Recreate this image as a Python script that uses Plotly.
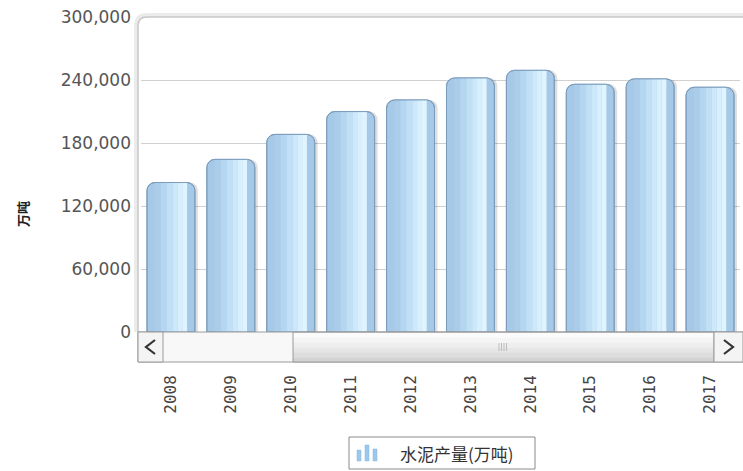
import plotly.graph_objects as go

# ---- data ----
years = ["2008", "2009", "2010", "2011", "2012", "2013", "2014", "2015", "2016", "2017"]
cement_output = [142356, 164398, 188191, 209926, 220984, 241924, 249207, 235919, 241031, 233084]
y_ticks = [0, 60000, 120000, 180000, 240000, 300000]
series_name = "水泥产量(万吨)"
y_title = "万吨"

W, H = 743, 471
L, R, T, B = 141, 3, 17, 139
PW = W - L - R
PH = H - T - B


def px(xp):
    return (xp - L) / PW


def py(yp):
    return (H - B - yp) / PH


fig = go.Figure()

BW = 0.8
CR = 8

# shadow
fig.add_trace(go.Bar(x=years, y=cement_output, width=BW, offset=-BW / 2 + 0.05,
                     marker=dict(color="rgba(0,0,0,0.13)", line=dict(width=0), cornerradius=CR),
                     showlegend=False, hoverinfo="skip"))
# base
fig.add_trace(go.Bar(x=years, y=cement_output, width=BW, offset=-BW / 2, name=series_name,
                     marker=dict(color="#a6c9e7", line=dict(color="#7b9dbd", width=1), cornerradius=CR),
                     showlegend=False))
# gradient strips
strips = [(-0.27, -0.17, "#abcdea"), (-0.17, -0.07, "#b5d6f0"), (-0.07, 0.03, "#c1dff5"),
          (0.03, 0.11, "#cde8fa"), (0.11, 0.19, "#d8effe"), (0.19, 0.27, "#e0f4ff")]
for a, b, c in strips:
    fig.add_trace(go.Bar(x=years, y=cement_output, width=b - a, offset=a,
                         marker=dict(color=c, line=dict(width=0)),
                         showlegend=False, hoverinfo="skip"))
# outline on top
fig.add_trace(go.Bar(x=years, y=cement_output, width=BW, offset=-BW / 2,
                     marker=dict(color="rgba(0,0,0,0)", line=dict(color="#7b9dbd", width=1), cornerradius=CR),
                     showlegend=False, hoverinfo="skip"))

shapes = []
frame = (f"M {px(138)} {py(332)} L {px(138)} {py(26)} Q {px(138)} {py(17)} {px(147)} {py(17)} "
         f"L {px(743)} {py(17)}")
frame_sh = (f"M {px(136)} {py(332)} L {px(136)} {py(26)} Q {px(136)} {py(15)} {px(147)} {py(15)} "
            f"L {px(743)} {py(15)}")
shapes.append(dict(type="path", xref="paper", yref="paper", path=frame_sh,
                   line=dict(color="rgba(0,0,0,0.08)", width=4), layer="below"))
shapes.append(dict(type="path", xref="paper", yref="paper", path=frame,
                   line=dict(color="#c8c8c8", width=1.5), layer="above"))


def rect(x0, y0, x1, y1, fill, line="#9a9a9a", lw=1):
    shapes.append(dict(type="rect", xref="paper", yref="paper", x0=px(x0), x1=px(x1),
                       y0=py(y1), y1=py(y0), fillcolor=fill, line=dict(color=line, width=lw),
                       layer="above"))


def path(d, color, width):
    shapes.append(dict(type="path", xref="paper", yref="paper", path=d,
                       line=dict(color=color, width=width), layer="above"))


# scrollbar
rect(138, 332, 743, 362, "#f8f8f8")
grad = ["#fbfbfb", "#f5f5f5", "#eeeeee", "#e6e6e6", "#dddddd", "#d3d3d3"]
for i, c in enumerate(grad):
    y0 = 333 + i * 29 / len(grad)
    y1 = 333 + (i + 1) * 29 / len(grad)
    rect(293, y0, 714, y1, c, line="rgba(0,0,0,0)", lw=0)
rect(293, 332, 714, 362, "rgba(0,0,0,0)")
rect(138, 332, 163, 362, "#f4f4f4")
rect(714, 332, 743, 362, "#f4f4f4")
path(f"M {px(155)} {py(340)} L {px(146)} {py(347)} L {px(155)} {py(354)}", "#333333", 2.2)
path(f"M {px(724)} {py(340)} L {px(733)} {py(347)} L {px(724)} {py(354)}", "#333333", 2.2)
for gx in [499, 501.5, 504, 506.5]:
    path(f"M {px(gx)} {py(343)} L {px(gx)} {py(351)}", "#b0b0b0", 0.8)

# legend box (manual, mimicking the mini-bar icon)
rect(349, 437, 535, 469, "white", line="#8a8a8a", lw=1)
for x0, x1, top in [(357, 361, 450), (365, 369, 445), (373, 377, 449)]:
    rect(x0, top, x1, 461, "#9cc8ec", line="#86b6e0", lw=0.5)

annotations = [
    dict(text=y_title, x=px(22), y=py(214), xref="paper", yref="paper", showarrow=False,
         xanchor="center", yanchor="middle", textangle=-90,
         font=dict(family="Noto Sans CJK SC", size=13, color="#222222", weight="bold")),
    dict(text=series_name, x=px(398), y=py(453), xref="paper", yref="paper", showarrow=False,
         xanchor="left", yanchor="middle",
         font=dict(family="Noto Sans CJK SC", size=17, color="#333333")),
]

fig.update_layout(
    width=W, height=H,
    margin=dict(l=L, r=R, t=T, b=B),
    paper_bgcolor="white", plot_bgcolor="white",
    barmode="overlay",
    showlegend=False,
    xaxis=dict(type="category", showgrid=False, showline=False, zeroline=False, ticks="",
               tickangle=-90, ticklabelstandoff=39,
               tickfont=dict(family="DejaVu Sans Mono", size=16, color="#444444"),
               fixedrange=True),
    yaxis=dict(range=[0, 300000], tickvals=y_ticks, tickformat=",d", showgrid=True,
               gridcolor="#d0d0d0", gridwidth=1, zeroline=False, showline=False, ticks="",
               ticklabelstandoff=9,
               tickfont=dict(family="DejaVu Sans", size=17, color="#555555"),
               fixedrange=True),
    shapes=shapes,
    annotations=annotations,
    hovermode=False,
)

fig.write_html("out.html", config={"displayModeBar": False},
               post_script="document.body.style.margin='0';document.body.style.overflow='hidden';")
